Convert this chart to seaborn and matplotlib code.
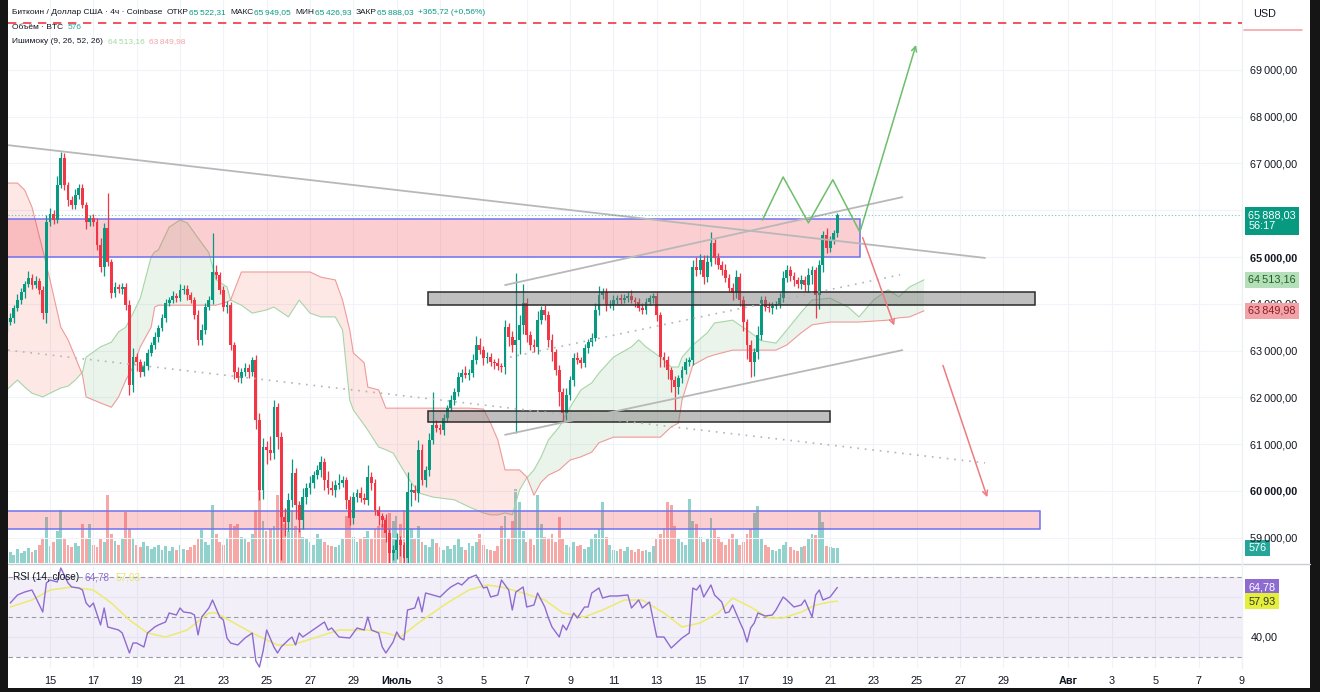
import numpy as np
import pandas as pd
import seaborn as sns
import matplotlib.pyplot as plt
import matplotlib.dates as mdates
from matplotlib.patches import Rectangle
from matplotlib.lines import Line2D
from matplotlib.offsetbox import TextArea, HPacker, AnchoredOffsetbox

# ---- data (BTC/USD, 4h, Coinbase) ----
start = '2024-06-13 00:00'
first_open = 63480

closes = [
    63610, 63700, 63910, 64080, 64250, 64420, 64550, 64400, 64490, 64300,
    63800, 65750, 65920, 65790, 66540, 67120, 66540, 66220, 66110, 66330,
    66470, 66110, 65750, 65830, 65750, 65260, 64790, 65620, 64890, 64230,
    64360, 64320, 64360, 63970, 62260, 62860, 62760, 62540, 62670, 62950,
    63120, 63290, 63480, 63700, 64020, 64080, 64170, 64120, 64300, 64320,
    64190, 64080, 63760, 63230, 63440, 63930, 64080, 64680, 64620, 64300,
    63930, 63970, 63120, 62540, 62410, 62540, 62630, 62540, 62800, 61520,
    60020, 60940, 60880, 60810, 61790, 61150, 59440, 59340, 59810, 60380,
    59700, 59380, 59870, 60060, 60170, 60340, 60450, 60620, 60230, 60060,
    60020, 60130, 60170, 60230, 59810, 59420, 59870, 59960, 59850, 59810,
    60300, 60170, 59590, 59470, 59380, 59100, 58670, 58740, 58950, 58850,
    58570, 59980, 60020, 59960, 60880, 60230, 60450, 61090, 61410, 61350,
    61300, 61560, 61770, 61940, 62120, 62440, 62520, 62480, 62520, 62800,
    63120, 63010, 62840, 62860, 62760, 62730, 62670, 62650, 63500, 63290,
    63120, 63230, 63550, 64020, 63330, 63120, 63080, 63650, 63870, 63760,
    63230, 62970, 62590, 62120, 61670, 62050, 62370, 62840, 62800, 62730,
    63060, 63180, 63270, 63870, 64190, 64250, 63970, 63970, 64080, 64120,
    64080, 64120, 64170, 64080, 64040, 63910, 63870, 64040, 64120, 64170,
    63760, 62860, 62800, 62590, 62370, 62220, 62410, 62590, 62760, 62800,
    64790, 64720, 64940, 64570, 64890, 65300, 64980, 64830, 64720, 64550,
    64340, 64230, 64570, 64080, 63610, 63120, 62760, 62970, 63330, 64080,
    63930, 63910, 63950, 64000, 64120, 64550, 64720, 64590, 64510, 64420,
    64510, 64400, 64620, 64720, 64190, 64830, 65470, 65190, 65360, 65522.31,
    65888.03,
]

wick_up = [
    80, 100, 60, 120, 90, 70, 150, 80, 100, 60,
    90, 150, 120, 80, 200, 120, 100, 60, 90, 120,
    80, 100, 60, 70, 90, 80, 150, 100, 750, 70,
    100, 60, 80, 90, 120, 200, 90, 60, 100, 80,
    70, 100, 60, 90, 80, 70, 100, 60, 120, 80,
    90, 70, 60, 100, 120, 80, 90, 830, 150, 60,
    80, 100, 60, 70, 120, 90, 100, 80, 60, 100,
    150, 200, 120, 300, 150, 80, 100, 200, 150, 300,
    120, 80, 200, 100, 150, 90, 100, 120, 80, 200,
    150, 100, 200, 80, 60, 90, 100, 80, 120, 100,
    250, 100, 90, 80, 70, 120, 80, 100, 150, 90,
    60, 430, 150, 100, 200, 120, 80, 150, 700, 100,
    90, 80, 60, 120, 70, 100, 80, 150, 90, 120,
    200, 150, 80, 100, 90, 70, 120, 60, 150, 100,
    120, 1430, 200, 400, 100, 80, 120, 200, 90, 100,
    80, 120, 60, 100, 90, 150, 80, 100, 120, 70,
    90, 60, 100, 150, 200, 90, 80, 120, 100, 70,
    100, 80, 90, 120, 60, 80, 100, 90, 70, 60,
    80, 60, 100, 90, 70, 80, 60, 90, 80, 70,
    150, 200, 120, 100, 150, 230, 90, 100, 80, 120,
    90, 100, 150, 80, 90, 60, 100, 80, 200, 90,
    80, 100, 90, 60, 120, 150, 100, 80, 90, 70,
    100, 80, 150, 90, 60, 100, 80, 150, 90, 60,
    61.02,
]

wick_dn = [
    90, 70, 100, 60, 80, 120, 70, 90, 60, 100,
    130, 200, 90, 80, 70, 60, 100, 120, 90, 80,
    100, 60, 150, 80, 90, 120, 100, 200, 80, 100,
    80, 90, 120, 100, 210, 150, 200, 100, 90, 80,
    70, 90, 100, 60, 80, 70, 60, 90, 70, 80,
    100, 60, 90, 120, 100, 80, 70, 90, 100, 80,
    90, 120, 100, 150, 80, 100, 90, 120, 80, 200,
    210, 200, 300, 150, 120, 250, 910, 300, 200, 150,
    300, 250, 200, 150, 120, 100, 90, 150, 200, 120,
    100, 150, 80, 90, 200, 150, 120, 100, 90, 80,
    120, 150, 100, 200, 150, 200, 300, 150, 200, 250,
    200, 100, 300, 150, 200, 100, 150, 120, 90, 100,
    80, 100, 90, 60, 100, 80, 120, 70, 100, 90,
    80, 90, 150, 100, 80, 120, 90, 100, 150, 200,
    150, 1880, 300, 200, 150, 100, 120, 150, 90, 100,
    150, 200, 120, 300, 200, 150, 100, 120, 90, 100,
    80, 120, 90, 60, 100, 80, 120, 70, 100, 90,
    80, 60, 90, 70, 100, 60, 80, 90, 70, 100,
    120, 200, 150, 200, 250, 490, 150, 100, 90, 80,
    100, 120, 90, 150, 100, 80, 120, 90, 100, 80,
    90, 150, 100, 120, 200, 300, 330, 300, 150, 100,
    80, 90, 120, 60, 100, 90, 80, 100, 120, 90,
    100, 120, 150, 200, 490, 300, 150, 100, 90, 80,
    95.38,
]

volume = [
    350, 420, 300, 520, 380, 460, 560, 400, 480, 700,
    900, 1750, 650, 800, 1200, 2000, 900, 700, 600, 750,
    650, 1500, 900, 1500, 700, 600, 950, 800, 2600, 1100,
    850, 700, 900, 1950, 1300, 900, 700, 600, 800, 650,
    550, 600, 700, 500, 650, 450, 600, 500, 700, 550,
    500, 600, 700, 900, 1250, 800, 700, 2200, 1100, 800,
    700, 900, 1500, 1400, 1500, 1000, 900, 800, 1100, 2000,
    2800, 1600, 1200, 1300, 1400, 2600, 2400, 1500, 1200, 2000,
    1400, 1300, 1000, 900, 800, 700, 1100, 900, 800, 700,
    650, 600, 700, 900, 1800, 1700, 1000, 800, 900, 1000,
    1200, 900, 1300, 1400, 1500, 1700, 1900, 1600, 1800, 1500,
    2000, 2400, 1300, 900, 1400, 800, 700, 600, 900, 750,
    600, 500, 650, 550, 700, 900, 600, 500, 750, 650,
    800, 1100, 700, 550, 500, 450, 650, 1400, 1800, 900,
    1600, 2800, 2300, 1200, 800, 900, 700, 2600, 1500, 1000,
    900, 1100, 800, 1750, 900, 700, 600, 800, 650, 700,
    550, 600, 900, 1100, 1300, 2300, 1000, 700, 500, 450,
    550, 450, 600, 500, 400, 550, 450, 500, 400, 650,
    900, 1100, 1300, 2300, 2200, 1400, 900, 800, 700, 2450,
    1600, 1500, 1000, 800, 900, 1700, 1300, 1000, 800, 700,
    900, 1100, 900, 700, 800, 1100, 1300, 1900, 2150, 900,
    700, 600, 500, 450, 550, 700, 800, 600, 500, 450,
    600, 650, 900, 1100, 1050, 1950, 1550, 650, 600, 560,
    576,
]

# Ichimoku cloud (index on the 4h grid, cloud already shifted forward)
cloud_idx = [0, 3, 5, 7, 10, 12, 15, 17, 19, 21, 22, 26, 29, 31, 33, 35, 37, 40, 41, 42,
             45, 48, 50, 54, 56, 58, 61, 62, 65, 68, 72, 74, 78, 81, 84, 87, 91, 93, 95, 96,
             99, 100, 103, 105, 107, 111, 114, 118, 124, 128, 132, 134, 136, 138, 140, 142, 144, 146, 148, 150,
             153, 156, 159, 162, 164, 168, 173, 175, 177, 181, 184, 186, 187, 190, 194, 196, 201, 205, 209, 213,
             216, 220, 223, 228, 233, 236, 240, 244, 247, 250, 254]
span_a = [62160, 62370, 62220, 62090, 62010, 62090, 62200, 62240, 62370, 62540,
          62860, 63080, 63180, 63400, 63500, 63800, 64120, 65000, 65110, 65150,
          65640, 65790, 65730, 65300, 65090, 64510, 64360, 64080, 63970, 63800,
          63870, 63930, 63720, 64080, 63800, 63720, 63720, 63440, 61940, 61730,
          61410, 61300, 60940, 60880, 60810, 60300, 59960, 59870, 59810, 59660,
          59530, 59490, 59490, 59530, 59490, 60020, 60280, 60450, 60730, 61090,
          61370, 61790, 62160, 62310, 62520, 62860, 63080, 63230, 63080, 62860,
          62650, 62650, 62860, 63120, 63380, 63590, 63650, 63440, 63210, 63160,
          63440, 63820, 64080, 64120, 63930, 63720, 64080, 64300, 64150, 64360,
          64513.16]
span_b = [66580, 66580, 66430, 66070, 65150, 64510, 63500, 63230, 62860, 62480,
          62010, 61880, 61790, 62010, 62370, 62650, 63080, 63500, 63930, 63970,
          63970, 63970, 63970, 63970, 63970, 63970, 64040, 64080, 64680, 64680,
          64680, 64680, 64680, 64680, 64680, 64570, 64510, 64080, 63440, 62950,
          62740, 62220, 62160, 61770, 61770, 61770, 61770, 61770, 61770, 61770,
          61750, 61450, 61090, 60450, 60450, 60450, 60300, 59910, 60190, 60340,
          60450, 60660, 60730, 60830, 61030, 61150, 61150, 61150, 61150, 61150,
          61370, 61450, 61940, 62690, 62860, 62910, 63010, 63010, 63010, 63010,
          63120, 63380, 63550, 63610, 63610, 63610, 63630, 63650, 63700, 63720,
          63849.98]

# RSI(14) and its moving average
rsi_idx = [1, 3, 5, 7, 8, 10, 11, 12, 14, 15, 17, 18, 20, 21, 22, 23, 24, 26, 27, 28,
           29, 31, 32, 34, 35, 36, 38, 39, 41, 42, 44, 45, 47, 48, 49, 51, 52, 53, 54, 56,
           57, 59, 60, 61, 62, 64, 66, 68, 69, 70, 71, 72, 74, 75, 76, 78, 79, 80, 81, 82,
           84, 86, 88, 89, 90, 92, 95, 97, 99, 100, 101, 103, 104, 105, 107, 108, 109, 110, 111, 113,
           114, 115, 116, 118, 120, 122, 123, 125, 126, 128, 130, 132, 133, 134, 136, 137, 139, 140, 141, 143,
           144, 146, 147, 149, 150, 151, 153, 154, 155, 157, 158, 160, 161, 162, 164, 165, 167, 169, 172, 173,
           175, 176, 178, 180, 182, 184, 187, 189, 190, 191, 192, 193, 195, 196, 198, 199, 200, 201, 203, 204,
           205, 206, 207, 208, 210, 212, 213, 215, 216, 218, 220, 221, 223, 224, 225, 226, 228, 230]
rsi_val = [57, 61, 62.5, 63.5, 60, 52.5, 67, 68.5, 67.5, 74.5, 67, 65, 64.5, 63.5, 57, 55, 57, 46, 54.5, 45,
           44.5, 43.5, 42, 32, 37, 37, 35, 42, 45, 46, 47.5, 52, 51, 54.5, 52.5, 52, 51, 41, 50, 54.5,
           58.5, 50, 48.5, 39.5, 37, 36, 39.5, 42, 28, 25, 33, 43.5, 35, 32, 35, 38.5, 40, 36, 42, 40,
           42.5, 45, 47.5, 43.5, 44.5, 40, 39.5, 44.5, 43.5, 50, 43.5, 42, 35, 32, 37.5, 42.5, 39.5, 38.5, 53.5, 54.5,
           60, 52.5, 62, 61, 60, 63.5, 65, 67, 66, 69.5, 71, 64.5, 65, 60, 61, 68.5, 63.5, 53.5, 62.5, 65,
           55, 56, 62, 55, 49.5, 45, 40, 46, 43.5, 52, 49.5, 55, 55, 62, 64.5, 59.5, 60.5, 60.5, 61, 54.5,
           58.5, 54.5, 57.5, 40, 40, 34.5, 39.5, 42, 64.5, 63.5, 66, 60, 66, 61, 57.5, 52, 52.5, 56, 47.5, 43.5,
           37.5, 44.5, 47, 52, 50.5, 51, 53.5, 60, 58.5, 55, 56, 58.5, 50, 61, 63.5, 58.5, 60, 64.78]
ma_idx = [1, 7, 12, 18, 24, 29, 34, 39, 44, 50, 56, 58, 63, 68, 75, 79, 86, 92, 100, 105,
          109, 114, 118, 122, 128, 133, 137, 143, 149, 154, 160, 165, 171, 176, 182, 187, 192, 197, 201, 206,
          211, 215, 220, 224, 228, 230]
ma_val = [55, 58.5, 63.5, 65, 63.5, 57, 48.5, 42, 40, 43.5, 52, 52, 47, 42, 36, 36, 40, 43.5, 43.5, 42,
          40, 47, 52, 57, 63.5, 66, 65, 62, 58.5, 52, 50, 53.5, 58.5, 58.5, 52, 45, 47, 52, 59.5, 55,
          49.5, 49.5, 52.5, 56, 57.5, 57.93]

# axis ticks
price_ticks = [59000, 60000, 61000, 62000, 63000, 64000, 65000, 66000, 67000, 68000, 69000]
bold_prices = [60000, 65000]
rsi_ticks = [40, 60]
rsi_tick_labels = ['40,00', '']   # the 60 label sits under the value tags
date_ticks = ['2024-06-15', '2024-06-17', '2024-06-19', '2024-06-21', '2024-06-23', '2024-06-25',
              '2024-06-27', '2024-06-29', '2024-07-01', '2024-07-03', '2024-07-05', '2024-07-07',
              '2024-07-09', '2024-07-11', '2024-07-13', '2024-07-15', '2024-07-17', '2024-07-19',
              '2024-07-21', '2024-07-23', '2024-07-25', '2024-07-27', '2024-07-29', '2024-08-01',
              '2024-08-03', '2024-08-05', '2024-08-07', '2024-08-09']
date_labels = ['15', '17', '19', '21', '23', '25', '27', '29', 'Июль', '3', '5', '7', '9', '11',
               '13', '15', '17', '19', '21', '23', '25', '27', '29', 'Авг', '3', '5', '7', '9']
bold_dates = ['Июль', 'Авг']

# drawings on the chart
alert_price = 70000
pink_zones = [('2024-06-12', '2024-07-22 09:00', 65000, 65810),
              ('2024-06-12', '2024-07-30 16:30', 59190, 59570)]
gray_zones = [('2024-07-02 10:30', '2024-07-30 11:00', 63970, 64250),
              ('2024-07-02 10:30', '2024-07-21 00:00', 61470, 61710)]
solid_lines = [(('2024-06-13 01:30', 67390), ('2024-07-28 03:30', 64980)),
               (('2024-07-06 00:00', 64400), ('2024-07-24 08:00', 66280)),
               (('2024-07-06 00:00', 61200), ('2024-07-24 08:00', 63010))]
dotted_lines = [(('2024-06-13 01:30', 63010), ('2024-07-28 03:30', 60600)),
                (('2024-07-06 05:30', 62860), ('2024-07-24 05:30', 64620))]
green_path_t = ['2024-07-17 21:00', '2024-07-18 20:00', '2024-07-20 00:00', '2024-07-21 03:00', '2024-07-22 09:00']
green_path_p = [65790, 66710, 65730, 66650, 65530]
green_tip = ('2024-07-25 00:00', 69590)
red_arrows = [(('2024-07-22 11:00', 65470), ('2024-07-24 00:00', 63480)),
              (('2024-07-26 04:00', 62740), ('2024-07-28 07:00', 59810))]

# ---- style ----
sns.set_theme(style='white')
plt.rcParams['font.family'] = ['Liberation Sans', 'DejaVu Sans']

UP, DN, INK = '#089981', '#f23645', '#131722'
W, H = 1320, 692


def fmt(v):
    return f"{v:,.2f}".replace(',', '\u2009').replace('.', ',')


def dn(s):
    return mdates.datestr2num(s)


fig = plt.figure(figsize=(W / 100, H / 100), dpi=100, facecolor='#151515')
fig.add_artist(Rectangle((8 / W, 1 - 688 / H), 1302 / W, 688 / H, transform=fig.transFigure,
                         facecolor='white', edgecolor='none', zorder=-10))

ax = fig.add_axes([8 / W, 1 - 563 / H, 1234 / W, 563 / H])
axr = fig.add_axes([8 / W, 1 - 668 / H, 1234 / W, 102 / H], sharex=ax)
axv = ax.twinx()
ax.set_zorder(3)
axv.set_zorder(2)
ax.patch.set_visible(False)

t0 = dn(start)
n = len(closes)
tc = t0 + np.arange(n) / 6
c = np.array(closes, dtype=float)
o = np.array([first_open] + closes[:-1], dtype=float)
hi = np.maximum(o, c) + np.array(wick_up)
lo = np.minimum(o, c) - np.array(wick_dn)
up = c >= o
cols = np.where(up, UP, DN)

# cloud
tcl = t0 + np.array(cloud_idx) / 6
a = np.array(span_a)
b = np.array(span_b)
ax.fill_between(tcl, a, b, where=a >= b, interpolate=True, color='#43a047', alpha=0.11, lw=0, zorder=1)
ax.fill_between(tcl, a, b, where=a < b, interpolate=True, color='#f44336', alpha=0.12, lw=0, zorder=1)
sns.lineplot(x=tcl, y=a, ax=ax, color='#a5d6a7', lw=0.8, zorder=1.2)
sns.lineplot(x=tcl, y=b, ax=ax, color='#ef9a9a', lw=0.8, zorder=1.2)

# zones
for s, e, y0, y1 in pink_zones:
    ax.add_patch(Rectangle((dn(s), y0), dn(e) - dn(s), y1 - y0, facecolor=(0.95, 0.21, 0.27, 0.24),
                           edgecolor='#6f73f0', lw=1.1, zorder=2))

# candles
ax.vlines(tc, lo, hi, colors=cols, lw=0.9, zorder=3)
ax.bar(tc, np.maximum(np.abs(c - o), 15), bottom=np.minimum(o, c), width=0.13,
       color=cols, lw=0, zorder=3.1)

for s, e, y0, y1 in gray_zones:
    ax.add_patch(Rectangle((dn(s), y0), dn(e) - dn(s), y1 - y0, facecolor=(0.45, 0.45, 0.45, 0.45),
                           edgecolor='#2b2b2b', lw=1.1, zorder=4))

for (s0, p0), (s1, p1) in solid_lines:
    ax.plot([dn(s0), dn(s1)], [p0, p1], color='#b8b8b8', lw=1.3, zorder=5)
for (s0, p0), (s1, p1) in dotted_lines:
    ax.plot([dn(s0), dn(s1)], [p0, p1], color='#b4b4b4', lw=1.2, ls=(0, (1, 3.5)), zorder=5)

gx = [dn(s) for s in green_path_t]
ax.plot(gx, green_path_p, color='#6cbf6a', lw=1.1, zorder=6)
ax.annotate('', xy=(dn(green_tip[0]), green_tip[1]), xytext=(gx[-1], green_path_p[-1]),
            arrowprops=dict(arrowstyle='->', color='#6cbf6a', lw=1.1, mutation_scale=9), zorder=6)
for (s0, p0), (s1, p1) in red_arrows:
    ax.annotate('', xy=(dn(s1), p1), xytext=(dn(s0), p0),
                arrowprops=dict(arrowstyle='->', color='#ee7b80', lw=1.1, mutation_scale=9), zorder=6)

ax.axhline(alert_price, color=DN, lw=1.2, dashes=(5, 4), zorder=6)
ax.axhline(closes[-1], color=UP, lw=0.8, ls=(0, (1, 2)), alpha=0.55, zorder=6)

# volume
axv.bar(tc, volume, width=0.13, color=np.where(up, '#26a69a', '#ef5350'), alpha=0.5, lw=0)
axv.set_ylim(0, 21400)
axv.set_yticks([])
axv.tick_params(right=False, labelright=False)

# axes ranges & ticks
ax.set_xlim(dn('2024-06-13 01:30'), dn('2024-08-09 00:10'))
ax.set_ylim(58461, 70492)
ax.yaxis.tick_right()
ax.set_yticks(price_ticks)
ax.set_yticklabels([fmt(p) for p in price_ticks])
for lbl, p in zip(ax.get_yticklabels(), price_ticks):
    if p in bold_prices:
        lbl.set_fontweight('bold')
ax.set_xticks([dn(d) for d in date_ticks])
ax.tick_params(axis='both', length=0, labelsize=7.8, colors=INK, pad=6)
ax.tick_params(axis='x', labelbottom=False)
ax.grid(True, color='#f0f3fa', lw=0.8)

axr.set_ylim(24.5, 75.5)
axr.axhspan(30, 70, color='#7e57c2', alpha=0.09, lw=0)
for lvl in (70, 50, 30):
    axr.axhline(lvl, color='#9a9ca5', lw=0.8, dashes=(4, 3))
sns.lineplot(x=t0 + np.array(ma_idx) / 6, y=ma_val, ax=axr, color='#eceb6e', lw=1.1)
sns.lineplot(x=t0 + np.array(rsi_idx) / 6, y=rsi_val, ax=axr, color='#8e6bd0', lw=1.0)
axr.yaxis.tick_right()
axr.set_yticks(rsi_ticks)
axr.set_yticklabels(rsi_tick_labels)
axr.set_xticklabels(date_labels)
for lbl in axr.get_xticklabels():
    if lbl.get_text() in bold_dates:
        lbl.set_fontweight('bold')
axr.tick_params(axis='both', length=0, labelsize=7.8, colors=INK, pad=6)
axr.grid(True, color='#f0f3fa', lw=0.8)

for axis in (ax, axr, axv):
    for sp in axis.spines.values():
        sp.set_visible(False)
    axis.set_xlabel('')
    axis.set_ylabel('')


def tag(axis, y, text, fc, tc_, dy=0):
    axis.annotate(text, xy=(1, y), xycoords=axis.get_yaxis_transform(), xytext=(4.5, dy),
                  textcoords='offset points', ha='left', va='center', fontsize=7.8, color=tc_,
                  linespacing=1.15, annotation_clip=False, zorder=10,
                  bbox=dict(boxstyle='square,pad=0.3', fc=fc, ec='none'))


tag(ax, closes[-1], fmt(closes[-1]) + '\n56:17', UP, 'white', dy=-3.8)
tag(ax, span_a[-1], fmt(span_a[-1]), '#b4dfb9', '#1e5e25')
tag(ax, span_b[-1], fmt(span_b[-1]), '#f2a3a8', '#8c1d24')
tag(axv, volume[-1], str(volume[-1]), '#26a69a', 'white')
tag(axr, rsi_val[-1], f"{rsi_val[-1]:.2f}".replace('.', ','), '#8e6bd0', 'white')
tag(axr, ma_val[-1], f"{ma_val[-1]:.2f}".replace('.', ','), '#e3ef3a', '#333333')

# separators, USD label
fig.add_artist(Line2D([8 / W, 1310 / W], [1 - 564 / H] * 2, transform=fig.transFigure, color='#c9ccd4', lw=1))
fig.add_artist(Line2D([1242 / W] * 2, [1 - 668 / H, 1], transform=fig.transFigure, color='#eef0f3', lw=1))
fig.add_artist(Line2D([1244 / W, 1302 / W], [1 - 30 / H] * 2, transform=fig.transFigure, color='#f5a3a8', lw=1.2))
fig.text(1253 / W, 1 - 14 / H, 'USD', fontsize=7.8, color=INK, va='center')


def text_row(groups, x_px, y_px, size=6.0, sep=3.5):
    packs = []
    for g in groups:
        kids = [TextArea(s, textprops=dict(color=col, fontsize=size)) for s, col in g]
        packs.append(HPacker(children=kids, align='baseline', pad=0, sep=0))
    row = HPacker(children=packs, align='baseline', pad=0, sep=sep)
    box = AnchoredOffsetbox(loc='upper left', child=row, pad=0, borderpad=0, frameon=False,
                            bbox_to_anchor=(x_px / W, 1 - y_px / H), bbox_transform=fig.transFigure)
    box.set_zorder(20)
    fig.add_artist(box)


chg = closes[-1] - closes[-2]
pct = f"{chg / closes[-2] * 100:.2f}".replace('.', ',')
text_row([[('Биткоин / Доллар США · 4ч · Coinbase', INK)],
          [('ОТКР', INK), (fmt(closes[-2]), UP)],
          [('МАКС', INK), (fmt(closes[-1] + wick_up[-1]), UP)],
          [('МИН', INK), (fmt(closes[-2] - wick_dn[-1]), UP)],
          [('ЗАКР', INK), (fmt(closes[-1]), UP)],
          [(f"+{fmt(chg)} (+{pct}%)", UP)]], 12, 9)
text_row([[('Объём · BTC', INK)], [(str(volume[-1]), '#26a69a')]], 12, 24)
text_row([[('Ишимоку (9, 26, 52, 26)', INK)], [(fmt(span_a[-1]), '#a5d6a7')],
          [(fmt(span_b[-1]), '#f2a3a8')]], 12, 38)
text_row([[('RSI (14, close)', INK)], [(f"{rsi_val[-1]:.2f}".replace('.', ','), '#8e6bd0')],
          [(f"{ma_val[-1]:.2f}".replace('.', ','), '#e6e66a')]], 13, 572, size=7.2, sep=4)

fig.savefig('out.png', dpi=100, facecolor=fig.get_facecolor())
